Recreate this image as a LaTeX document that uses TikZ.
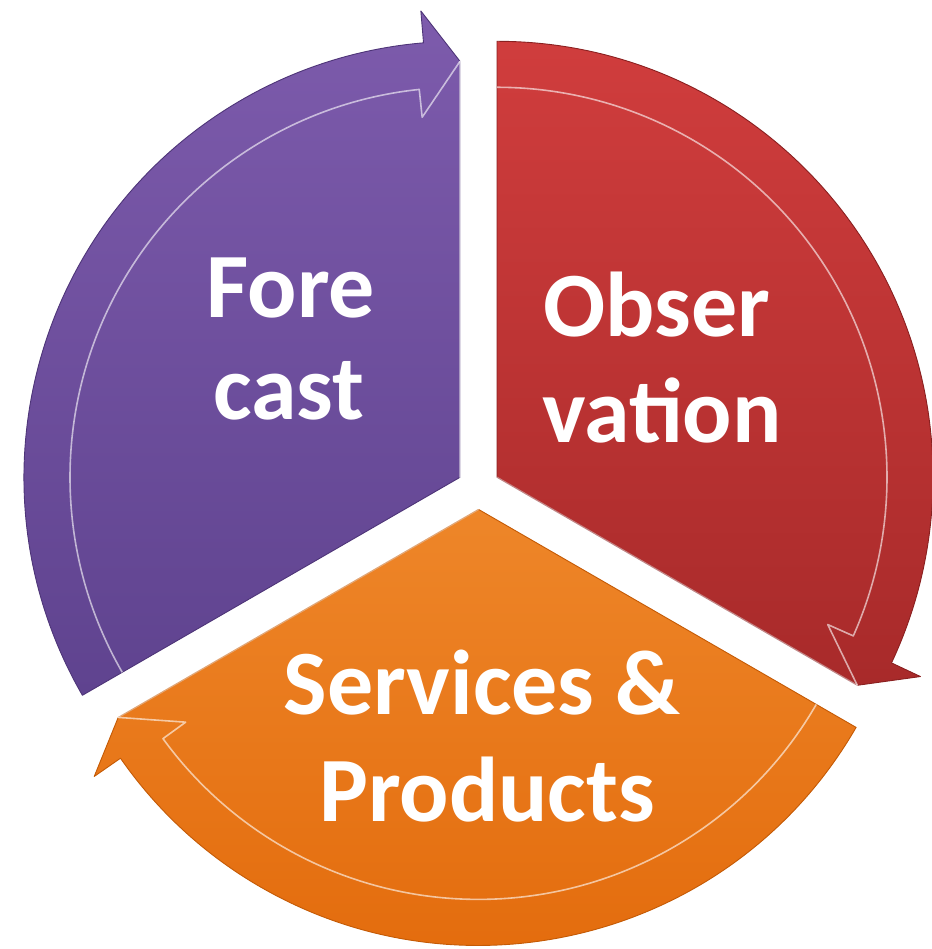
\documentclass[tikz,border=0pt]{standalone}
\usepackage{fontspec}
\setmainfont{Carlito}
\begin{document}
\begin{tikzpicture}[x=1pt,y=1pt,
  seglabel/.style={text=white,font=\fontsize{92}{104}\selectfont\bfseries,anchor=base,inner sep=0pt},
  segshape/.style={line width=0.9pt,line join=round},
  bandline/.style={draw=white,draw opacity=0.6,line width=1.6pt,line join=round},
  edgeline/.style={draw=white,draw opacity=0.45,line width=1.4pt,line cap=round}]
\definecolor{purpT}{HTML}{7D5BAC}
\definecolor{purpB}{HTML}{5F438F}
\definecolor{purpD}{HTML}{4E3578}
\definecolor{redT}{HTML}{D03D3D}
\definecolor{redB}{HTML}{A82A2A}
\definecolor{redD}{HTML}{8A2020}
\definecolor{oraT}{HTML}{EE8629}
\definecolor{oraB}{HTML}{E2690A}
\definecolor{oraD}{HTML}{C45A05}
\useasboundingbox (0,0) rectangle (931,949);
% Forecast (purple)
\begin{scope}[shift={(460,471.7)}]
  \path[segshape,top color=purpT,bottom color=purpB,draw=purpD]
    (0,0) -- (210:436) arc[start angle=210,end angle=94.8,radius=436]
    -- (94.8:468) -- (90:416) -- cycle;
  \path[bandline] (210:390) arc[start angle=210,end angle=96,radius=390] -- (96:362) -- (90:416);
  \path[edgeline] (0,0) -- (90:416);
\end{scope}
% Observation (red)
\begin{scope}[shift={(497,471.7)}]
  \path[segshape,top color=redT,bottom color=redB,draw=redD]
    (0,0) -- (90:436) arc[start angle=90,end angle=-25.2,radius=436]
    -- (-25.2:468) -- (-30:416) -- cycle;
  \path[bandline] (90:390) arc[start angle=90,end angle=-24,radius=390] -- (-24:362) -- (-30:416);
  \path[edgeline] (0,0) -- (-30:416);
\end{scope}
% Services & Products (orange)
\begin{scope}[shift={(478.5,439.6)}]
  \path[segshape,top color=oraT,bottom color=oraB,draw=oraD]
    (0,0) -- (-30:436) arc[start angle=-30,end angle=-145.2,radius=436]
    -- (-145.2:468) -- (-150:416) -- cycle;
  \path[bandline] (-30:390) arc[start angle=-30,end angle=-144,radius=390] -- (-144:362) -- (-150:416);
  \path[edgeline] (0,0) -- (-150:416);
\end{scope}
% labels
\node[seglabel] (fore) at (291,631) {Fore};
\node[seglabel] (cast) at (289,529) {cast};
\node[seglabel] (obser) at (657,612) {Obser};
\node[seglabel] (vation) at (662,506) {vation};
\node[seglabel] (services) at (482,234) {Services \&};
\node[seglabel] (products) at (487,127) {Products};
\end{tikzpicture}
\end{document}
